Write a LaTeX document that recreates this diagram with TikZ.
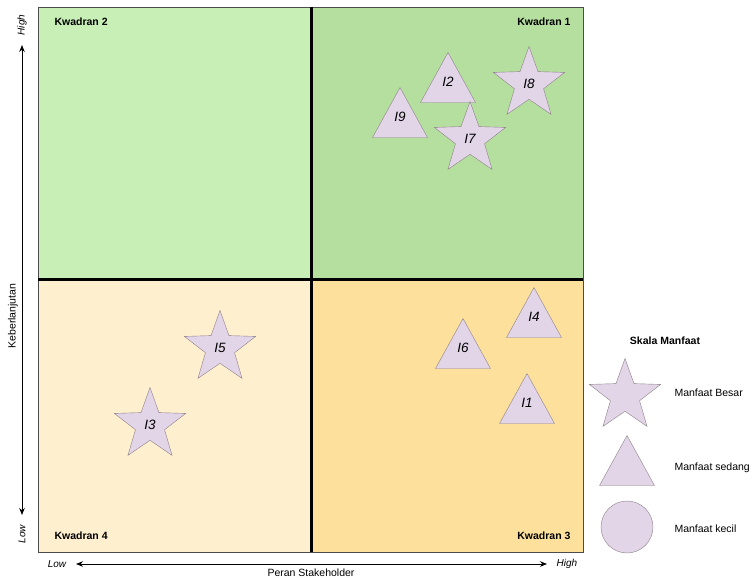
\documentclass[tikz,border=0pt]{standalone}
\usepackage{fontspec}
\setmainfont{Liberation Sans}
\usetikzlibrary{arrows.meta,shapes.geometric}

\definecolor{qone}{HTML}{B5DF9F}
\definecolor{qtwo}{HTML}{C8EFB6}
\definecolor{qthree}{HTML}{FDE09C}
\definecolor{qfour}{HTML}{FEF0CF}
\definecolor{lilac}{HTML}{E1D5E7}
\definecolor{lilacline}{HTML}{8E8088}

\begin{document}
\begin{tikzpicture}[x=1pt,y=-1pt,
    font=\fontsize{10.5}{12}\selectfont,
    quad/.style={font=\fontsize{10.5}{12}\selectfont\bfseries},
    axlab/.style={font=\fontsize{10}{12}\selectfont\itshape},
    bigstar/.style={star,star points=5,star point ratio=2.45,minimum size=75pt,inner sep=0pt,
      draw=lilacline,fill=lilac,font=\fontsize{13.5}{14}\selectfont\itshape},
    midtri/.style={isosceles triangle,shape border rotate=90,isosceles triangle stretches,
      minimum width=55pt,minimum height=50pt,inner sep=0pt,draw=lilacline,fill=lilac,
      anchor=apex,text depth=9pt,font=\fontsize{13.5}{14}\selectfont\itshape},
    smallcirc/.style={circle,minimum size=52pt,inner sep=0pt,draw=lilacline,fill=lilac},
    axis/.style={line width=0.8pt,{Stealth[length=7pt,width=5.5pt]}-{Stealth[length=7pt,width=5.5pt]}}]
  \useasboundingbox (0,0) rectangle (753,578);
  % quadrants
  \fill[qtwo] (38,7) rectangle (311,279);
  \fill[qone] (311,7) rectangle (583,279);
  \fill[qfour] (38,279) rectangle (311,552);
  \fill[qthree] (311,279) rectangle (583,552);
  \draw[black!70,line width=0.8pt] (38,7) rectangle (583,552);
  \draw[line width=3pt] (311,7) -- (311,552) (38,279) -- (583,279);
  \node[quad,anchor=west] (k2) at (51,22) {Kwadran 2};
  \node[quad,anchor=east] (k1) at (574,22) {Kwadran 1};
  \node[quad,anchor=west] (k4) at (51,536) {Kwadran 4};
  \node[quad,anchor=east] (k3) at (574,536) {Kwadran 3};

  % axes
  \coordinate (ytop) at (22,45);
  \coordinate (ybot) at (22,515);
  \draw[axis] (ybot) -- (ytop);
  \node[axlab,rotate=90] (yhigh) at (22,25) {High};
  \node[axlab,rotate=90] (ylow) at (22,534) {Low};
  \node[rotate=90] (ylab) at (13,316) {Keberlanjutan};
  \coordinate (xleft) at (76,564);
  \coordinate (xright) at (547,564);
  \draw[axis] (xleft) -- (xright);
  \node[axlab] (xlow) at (57,564) {Low};
  \node[axlab] (xhigh) at (567,564) {High};
  \node (xlab) at (311,573) {Peran Stakeholder};

  % indikator
  \node[midtri] (i2) at (448,52) {I2};
  \node[midtri] (i9) at (400,87) {I9};
  \node[bigstar] (i8) at (529,84) {I8};
  \node[bigstar] (i7) at (470,139) {I7};
  \node[midtri] (i4) at (534,287) {I4};
  \node[midtri] (i6) at (463,318) {I6};
  \node[midtri] (i1) at (527,373) {I1};
  \node[bigstar] (i5) at (220,348) {I5};
  \node[bigstar] (i3) at (150,425) {I3};

  % legenda
  \node[quad] (skala) at (665,341) {Skala Manfaat};
  \node[bigstar] (lgbesar) at (625,396) {};
  \node[midtri] (lgsedang) at (627,435) {};
  \node[smallcirc] (lgkecil) at (627,527) {};
  \node[anchor=west] (tbesar) at (671,393) {Manfaat Besar};
  \node[anchor=west] (tsedang) at (671,468) {Manfaat sedang};
  \node[anchor=west] (tkecil) at (671,529) {Manfaat kecil};
\end{tikzpicture}
\end{document}
